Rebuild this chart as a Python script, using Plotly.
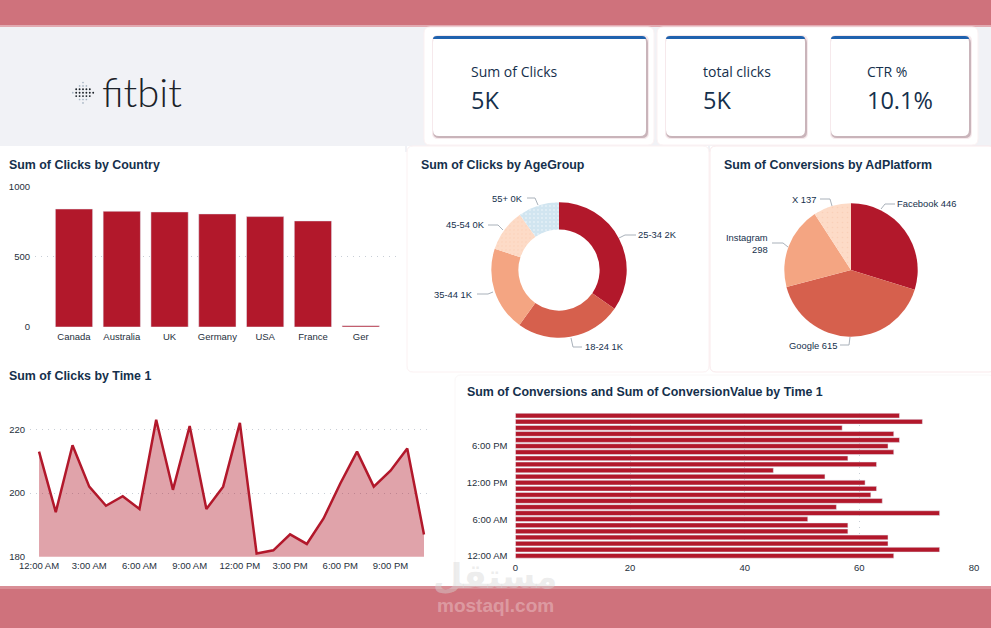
import plotly.graph_objects as go

W = 991
H = 628

# data
countries = ['Canada', 'Australia', 'UK', 'Germany', 'USA', 'France', 'Ger']
country_clicks = [841, 825, 820, 806, 787, 756, 9]

age_groups = ['25-34', '18-24', '35-44', '45-54', '55+']
age_clicks = [1680, 1222, 975, 490, 475]
age_labels = ['2K', '1K', '1K', '0K', '0K']

platforms = ['Facebook', 'Google', 'Instagram', 'X']
platform_conv = [446, 615, 298, 137]

hours = ['12:00 AM', '1:00 AM', '2:00 AM', '3:00 AM', '4:00 AM', '5:00 AM',
         '6:00 AM', '7:00 AM', '8:00 AM', '9:00 AM', '10:00 AM', '11:00 AM',
         '12:00 PM', '1:00 PM', '2:00 PM', '3:00 PM', '4:00 PM', '5:00 PM',
         '6:00 PM', '7:00 PM', '8:00 PM', '9:00 PM', '10:00 PM', '11:00 PM']
hour_clicks = [213, 194, 215, 202, 196, 199, 195, 223, 201, 221, 195, 202,
               222, 181, 182, 187, 184, 192, 203, 213, 202, 207, 214, 187]
hour_conv = [66, 74, 65, 65, 58, 58, 51, 74, 56, 64, 62, 63,
             61, 54, 45, 63, 58, 66, 65, 67, 66, 57, 71, 67]

kpi_names = ['Sum of Clicks', 'total clicks', 'CTR %']
kpi_values = ['5K', '5K', '10.1%']

RED = '#B2182B'
PIE_COLORS = ['#B2182B', '#D6604D', '#F4A582', '#FDDBC7', '#D1E5F0']
NAVY = '#15304C'
TICK = '#26303C'
GRID = '#C8CED6'
BAND = '#CF727C'
BODY = 'Liberation Sans'


def px(x):
    return x / W


def py(y):
    return 1 - y / H


def dom_x(a, b):
    return [px(a), px(b)]


def dom_y(top, bottom):
    return [py(bottom), py(top)]


def rect(x0, y0, x1, y1, color, line=None):
    return dict(type='rect', xref='paper', yref='paper', x0=px(x0), x1=px(x1),
                y0=py(y0), y1=py(y1), fillcolor=color, layer='below',
                line=dict(width=1 if line else 0, color=line or color))


def round_rect(x0, y0, x1, y1, r, color, line=None):
    p = (f'M {px(x0 + r)} {py(y0)} L {px(x1 - r)} {py(y0)} Q {px(x1)} {py(y0)} {px(x1)} {py(y0 + r)} '
         f'L {px(x1)} {py(y1 - r)} Q {px(x1)} {py(y1)} {px(x1 - r)} {py(y1)} '
         f'L {px(x0 + r)} {py(y1)} Q {px(x0)} {py(y1)} {px(x0)} {py(y1 - r)} '
         f'L {px(x0)} {py(y0 + r)} Q {px(x0)} {py(y0)} {px(x0 + r)} {py(y0)} Z')
    return dict(type='path', xref='paper', yref='paper', path=p, fillcolor=color,
                layer='below', line=dict(width=1 if line else 0, color=line or color))


def top_bar(x0, x1, y0, y1, color):
    p = (f'M {px(x0)} {py(y1)} Q {px(x0)} {py(y0)} {px(x0 + 4)} {py(y0)} L {px(x1 - 4)} {py(y0)} '
         f'Q {px(x1)} {py(y0)} {px(x1)} {py(y1)} Z')
    return dict(type='path', xref='paper', yref='paper', path=p, fillcolor=color,
                layer='below', line=dict(width=0))


def leader(points):
    p = 'M ' + ' L '.join(f'{px(x)} {py(y)}' for x, y in points)
    return dict(type='path', xref='paper', yref='paper', path=p,
                line=dict(color='#A9B1BA', width=1))


def text(x, y, s, size=9.5, color=TICK, anchor='left', family=BODY, weight=None):
    return dict(xref='paper', yref='paper', x=px(x), y=py(y), text=s, showarrow=False,
                xanchor=anchor, yanchor='middle', align=anchor, borderpad=0, borderwidth=0,
                font=dict(size=size, color=color, family=family, weight=weight))


shapes = []
notes = []

# page background, bands and panels
shapes.append(rect(0, 26, W, 586, '#F1F2F6'))
shapes.append(rect(0, 146, W, 586, '#FFFFFF'))
shapes.append(round_rect(0, 146, 405, 357, 6, '#FFFFFF'))
shapes.append(rect(405, 146, 407, 152, '#F1F2F6'))
shapes.append(rect(708, 146, 710, 152, '#F1F2F6'))
shapes.append(round_rect(407, 146, 709, 372, 6, '#FFFFFF', '#FBF1F2'))
shapes.append(round_rect(710, 146, W + 4, 372, 6, '#FFFFFF', '#F9E9EB'))
shapes.append(round_rect(455, 375, W + 4, 590, 6, '#FFFFFF', '#FAF7F7'))
shapes.append(rect(0, 0, W, 25, BAND))
shapes.append(rect(0, 25, W, 27, '#E2AAB1'))
shapes.append(rect(0, 589, W, H, BAND))
shapes.append(rect(0, 586, W, 589, '#D98E96'))

# KPI cards
shapes.append(round_rect(424, 27, 654, 145, 6, '#FFFFFF', '#FBF1F2'))
shapes.append(round_rect(657, 27, 978, 145, 6, '#FFFFFF', '#FBF1F2'))
cards = [(433, 646, 471), (666, 805, 703), (831, 969, 867)]
for (x0, x1, tx), name, val in zip(cards, kpi_names, kpi_values):
    shapes.append(round_rect(x0 - 1, 35, x1 + 3, 139, 6, '#F6E9EC'))
    shapes.append(round_rect(x0, 37, x1 + 2, 138, 6, '#C9B4BA'))
    shapes.append(round_rect(x0, 36, x1, 136, 6, '#FFFFFF'))
    shapes.append(top_bar(x0, x1, 36, 39, '#1F62AE'))
    notes.append(text(tx, 72, name, size=14, color=NAVY, family='Open Sans', weight=500))
    notes.append(text(tx, 100, val, size=23.5, color=NAVY, family='Open Sans', weight=500))

# logo
for i in range(-3, 4):
    for j in range(-3, 4):
        if abs(i) + abs(j) > 3:
            continue
        cx = 83 + i * 3.4
        cy = 92.7 + j * 3.4
        dark = abs(j) <= 1 and abs(i) + abs(j) <= 3 and i > -3
        r = 0.95 if dark else 0.85
        shapes.append(dict(type='circle', xref='paper', yref='paper', x0=px(cx - r), x1=px(cx + r),
                           y0=py(cy + r), y1=py(cy - r), fillcolor='#1C2228' if dark else '#A6B4C2',
                           line=dict(width=0), layer='below'))
notes.append(text(102, 92, 'fitbit', size=40, color='#1C2228', family='Lato', weight=300))

# titles
title_size = 12.4
notes.append(text(9, 165, 'Sum of Clicks by Country', size=title_size, color=NAVY, weight='bold'))
notes.append(text(421, 165, 'Sum of Clicks by AgeGroup', size=title_size, color=NAVY, weight='bold'))
notes.append(text(724, 165, 'Sum of Conversions by AdPlatform', size=title_size, color=NAVY, weight='bold'))
notes.append(text(9, 376, 'Sum of Clicks by Time 1', size=title_size, color=NAVY, weight='bold'))
notes.append(text(467, 392, 'Sum of Conversions and Sum of ConversionValue by Time 1', size=title_size, color=NAVY, weight='bold'))

# pie labels with leader lines
age_spots = [(638, 235, 'left', [(636, 235), (625, 235), (619, 238)]),
             (585, 346, 'left', [(582, 347), (573, 347), (571, 338)]),
             (473, 294, 'right', [(477, 294), (488, 294), (493, 292)]),
             (485, 225, 'right', [(488, 225), (498, 225), (503, 230)]),
             (523, 198, 'right', [(527, 198), (535, 198), (538, 205)])]
for (x, y, a, pts), g, v in zip(age_spots, age_groups, age_labels):
    notes.append(text(x, y, f'{g} {v}', size=9.4, color=NAVY, anchor=a))
    shapes.append(leader(pts))

platform_spots = [(897, 204, 'left', ' ', [(881, 209), (885, 204), (895, 204)]),
                  (837, 345, 'right', ' ', [(840, 345), (849, 345), (850, 337)]),
                  (768, 243.5, 'right', '<br>', [(772, 243), (783, 243), (788, 247)]),
                  (817, 199, 'right', ' ', [(820, 199), (830, 199), (832, 206)])]
for (x, y, a, sep, pts), g, v in zip(platform_spots, platforms, platform_conv):
    notes.append(text(x, y, f'{g}{sep}{v}', size=9.4, color=NAVY, anchor=a))
    shapes.append(leader(pts))

# watermark
notes.append(text(495, 576, 'مستقل', size=34, color='rgba(215,215,215,0.45)', anchor='center',
                  family='DejaVu Sans', weight='bold'))
notes.append(text(495, 605, 'mostaql.com', size=19, color='rgba(255,255,255,0.3)', anchor='center',
                  weight='bold'))

fig = go.Figure()

# country bars
fig.add_trace(go.Bar(x=countries, y=country_clicks, marker_color=RED, xaxis='x', yaxis='y',
                     hoverinfo='skip'))
# clicks by hour
fig.add_trace(go.Scatter(x=hours, y=hour_clicks, mode='lines', fill='tozeroy',
                         fillcolor='rgba(178,24,43,0.4)', line=dict(color=RED, width=2.5),
                         xaxis='x2', yaxis='y2', hoverinfo='skip'))
# conversions by hour
fig.add_trace(go.Bar(x=hour_conv, y=hours, orientation='h', marker_color=RED, xaxis='x3', yaxis='y3',
                     hoverinfo='skip'))
# donut and pie
fig.add_trace(go.Pie(labels=age_groups, values=age_clicks, hole=0.6, sort=False, direction='clockwise',
                     textinfo='none', hoverinfo='skip', showlegend=False,
                     domain=dict(x=dom_x(491.3, 626.7), y=dom_y(202.3, 337.7)),
                     marker=dict(colors=PIE_COLORS, line=dict(width=0),
                                 pattern=dict(shape=['', '', '', '.', '.'],
                                              fgcolor=['#FFFFFF', '#FFFFFF', '#FFFFFF', '#F9CDB4', '#FFFFFF'],
                                              bgcolor=PIE_COLORS, fgopacity=0.8, size=4, solidity=0.1))))
fig.add_trace(go.Pie(labels=platforms, values=platform_conv, sort=False, direction='clockwise',
                     textinfo='none', hoverinfo='skip', showlegend=False,
                     domain=dict(x=dom_x(784.3, 917.7), y=dom_y(203.3, 336.7)),
                     marker=dict(colors=PIE_COLORS[:4], line=dict(width=0),
                                 pattern=dict(shape=['', '', '', '.'],
                                              fgcolor=['#FFFFFF', '#FFFFFF', '#FFFFFF', '#F9CDB4'],
                                              bgcolor=PIE_COLORS[:4], fgopacity=0.8, size=5, solidity=0.08))))

tick_font = dict(size=9.5, color=TICK, family=BODY)
dots = dict(showgrid=True, gridcolor=GRID, griddash='1px,5px', gridwidth=1, zeroline=False)

fig.update_layout(
    width=W, height=H,
    margin=dict(l=0, r=0, t=0, b=0, autoexpand=False),
    paper_bgcolor='rgba(0,0,0,0)',
    plot_bgcolor='rgba(0,0,0,0)',
    showlegend=False,
    bargap=0.22,
    shapes=shapes,
    annotations=notes,
    font=dict(family=BODY),
    xaxis=dict(domain=dom_x(35, 398), type='category', categoryorder='array', categoryarray=countries,
               range=[-0.816, 6.78], showgrid=False, zeroline=False, tickfont=tick_font, ticks='',
               ticklabelstandoff=2, fixedrange=True, anchor='y'),
    yaxis=dict(domain=dom_y(186.7, 327), range=[0, 1000], tickvals=[0, 500, 1000], tickfont=tick_font,
               ticks='', ticklabelstandoff=4, anchor='x', **dots),
    xaxis2=dict(domain=dom_x(30, 429), type='category', categoryorder='array', categoryarray=hours,
                range=[-0.54, 23.3], showgrid=False, zeroline=False, tickfont=tick_font,
                tickmode='array', tickvals=hours[::3], ticktext=hours[::3], tickangle=0,
                ticklabelstandoff=2, anchor='y2'),
    yaxis2=dict(domain=dom_y(400, 556.7), range=[180, 229.2], tickvals=[180, 200, 220], tickfont=tick_font,
                ticklabelstandoff=4, anchor='x2', **dots),
    xaxis3=dict(domain=dom_x(515.4, 974), range=[0, 80], tickvals=[0, 20, 40, 60, 80], tickfont=tick_font,
                ticklabelstandoff=2, anchor='y3', **dots),
    yaxis3=dict(domain=dom_y(412.6, 558.8), type='category', categoryorder='array', categoryarray=hours,
                range=[-0.5, 23.5], showgrid=False, zeroline=False, tickfont=tick_font,
                tickmode='array', tickvals=hours[::6], ticktext=hours[::6], ticklabelstandoff=7,
                anchor='x3'),
)

fig.write_html('out.html', config=dict(displayModeBar=False),
               post_script="document.body.style.margin='0';document.body.style.overflow='hidden';")
